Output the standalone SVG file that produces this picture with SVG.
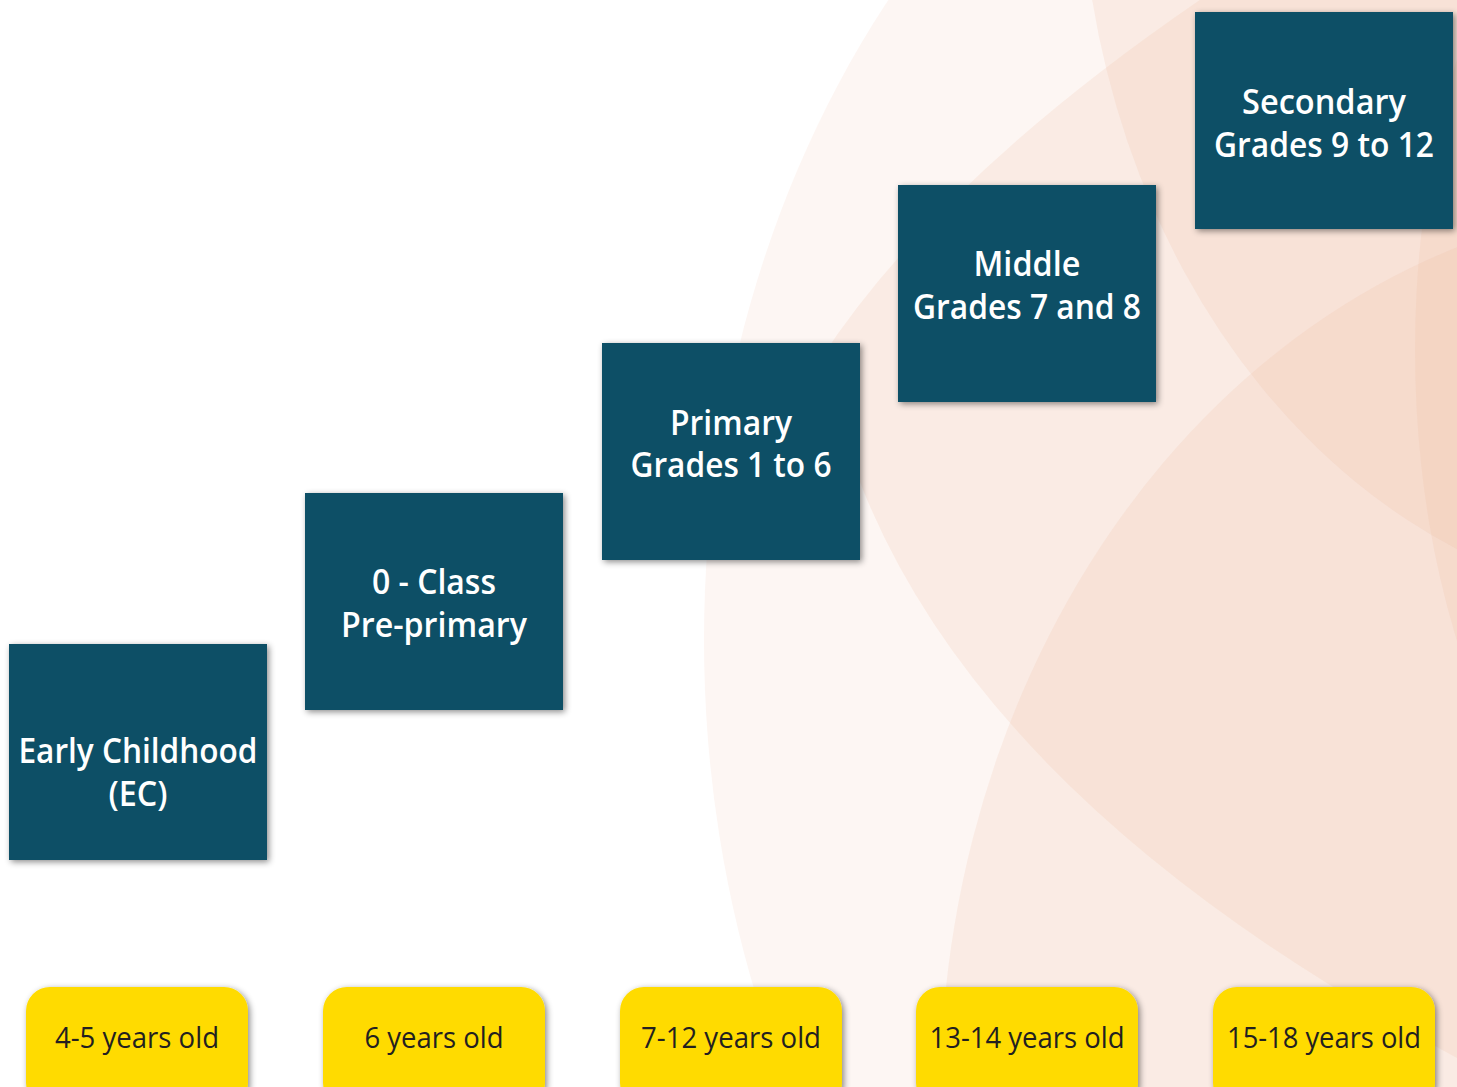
<svg xmlns="http://www.w3.org/2000/svg" width="1457" height="1087" viewBox="0 0 1457 1087">
<defs>
<style>
.bg{fill:#EFB59C;fill-opacity:0.17}
.box{fill:#075066;filter:url(#sh)}
.pill{fill:#FFDB05;filter:url(#sh)}
.bt{font-family:"Open Sans","Liberation Sans",sans-serif;font-weight:600;font-size:34px;fill:#ffffff;text-anchor:middle}
.pt{font-family:"Open Sans","Liberation Sans",sans-serif;font-weight:400;font-size:30px;fill:#231F20;text-anchor:middle}
</style>
<filter id="sh" x="-10%" y="-10%" width="125%" height="125%">
<feDropShadow dx="2" dy="2" stdDeviation="3" flood-color="#000" flood-opacity="0.45"/>
</filter>
</defs>
<rect width="1457" height="1087" fill="#ffffff"/>
<g id="background">
<ellipse class="bg" cx="1500" cy="640" rx="796" ry="1000" style="fill-opacity:0.12"/>
<path class="bg" d="M1260,-40 Q950,160 820,360 Q795,410 845,440 Q960,800 1480,1070 L1700,1100 L1700,-40 Z"/>
<ellipse class="bg" cx="1700" cy="-150" rx="620" ry="760"/>
<ellipse class="bg" cx="1700" cy="1100" rx="760" ry="900"/>
<ellipse class="bg" cx="1750" cy="350" rx="335" ry="600"/>
</g>
<g id="connectors"></g>
<g id="node-ec">
<rect class="box" x="9" y="644" width="258" height="216"/>
<text class="bt" x="138" y="763" textLength="239" lengthAdjust="spacingAndGlyphs">Early Childhood</text>
<text class="bt" x="138" y="806" textLength="59" lengthAdjust="spacingAndGlyphs">(EC)</text>
</g>
<g id="node-preprimary">
<rect class="box" x="305" y="493" width="258" height="217"/>
<text class="bt" x="434" y="594" textLength="124" lengthAdjust="spacingAndGlyphs">0 - Class</text>
<text class="bt" x="434" y="637" textLength="186" lengthAdjust="spacingAndGlyphs">Pre-primary</text>
</g>
<g id="node-primary">
<rect class="box" x="602" y="343" width="258" height="217"/>
<text class="bt" x="731" y="435" textLength="122" lengthAdjust="spacingAndGlyphs">Primary</text>
<text class="bt" x="731" y="477" textLength="201" lengthAdjust="spacingAndGlyphs">Grades 1 to 6</text>
</g>
<g id="node-middle">
<rect class="box" x="898" y="185" width="258" height="217"/>
<text class="bt" x="1027" y="276" textLength="107" lengthAdjust="spacingAndGlyphs">Middle</text>
<text class="bt" x="1027" y="319" textLength="228" lengthAdjust="spacingAndGlyphs">Grades 7 and 8</text>
</g>
<g id="node-secondary">
<rect class="box" x="1195" y="12" width="258" height="217"/>
<text class="bt" x="1324" y="114" textLength="164" lengthAdjust="spacingAndGlyphs">Secondary</text>
<text class="bt" x="1324" y="157" textLength="220" lengthAdjust="spacingAndGlyphs">Grades 9 to 12</text>
</g>
<g id="age-4-5">
<rect class="pill" x="26" y="987" width="222" height="120" rx="24"/>
<text class="pt" x="137" y="1048" textLength="164" lengthAdjust="spacingAndGlyphs">4-5 years old</text>
</g>
<g id="age-6">
<rect class="pill" x="323" y="987" width="222" height="120" rx="24"/>
<text class="pt" x="434" y="1048" textLength="139" lengthAdjust="spacingAndGlyphs">6 years old</text>
</g>
<g id="age-7-12">
<rect class="pill" x="620" y="987" width="222" height="120" rx="24"/>
<text class="pt" x="731" y="1048" textLength="180" lengthAdjust="spacingAndGlyphs">7-12 years old</text>
</g>
<g id="age-13-14">
<rect class="pill" x="916" y="987" width="222" height="120" rx="24"/>
<text class="pt" x="1027" y="1048" textLength="195" lengthAdjust="spacingAndGlyphs">13-14 years old</text>
</g>
<g id="age-15-18">
<rect class="pill" x="1213" y="987" width="222" height="120" rx="24"/>
<text class="pt" x="1324" y="1048" textLength="194" lengthAdjust="spacingAndGlyphs">15-18 years old</text>
</g>
</svg>
